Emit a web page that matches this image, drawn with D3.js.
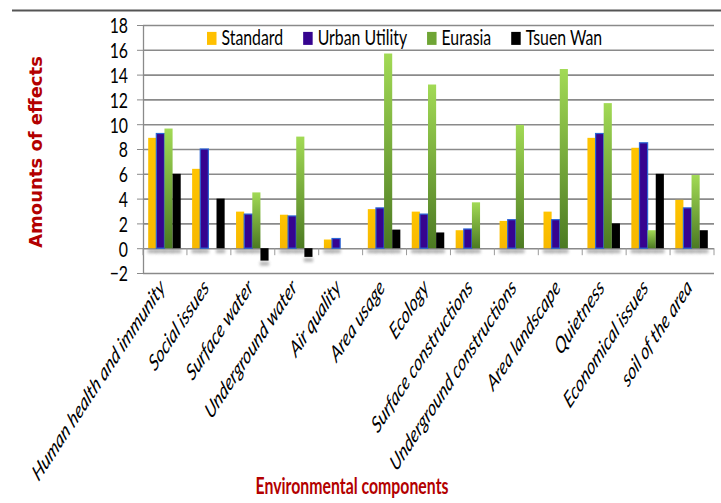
<!DOCTYPE html>
<html>
<head>
<meta charset="utf-8">
<script src="https://cdn.jsdelivr.net/npm/d3@7/dist/d3.min.js"></script>
<style>
  html, body { margin: 0; padding: 0; background: #fff; }
  svg { display: block; }
</style>
</head>
<body>
<svg id="chart" width="721" height="503"></svg>
<script>
// Environmental components and the amount of effect for each method
const categories = [
  "Human health and immunity", "Social issues", "Surface water", "Underground water",
  "Air quality", "Area usage", "Ecology", "Surface constructions",
  "Underground constructions", "Area landscape", "Quietness", "Economical issues",
  "soil of the area"
];
const seriesNames = ["Standard", "Urban Utility", "Eurasia", "Tsuen Wan"];
const standard     = [8.9, 6.4, 2.95, 2.7, 0.7, 3.15, 2.95, 1.45, 2.2, 2.95, 8.9, 8.1, 3.9];
const urbanUtility = [9.25, 8.0, 2.75, 2.6, 0.78, 3.25, 2.75, 1.55, 2.3, 2.3, 9.25, 8.5, 3.25];
const eurasia      = [9.65, 0, 4.5, 9.0, 0, 15.7, 13.2, 3.7, 9.95, 14.45, 11.7, 1.45, 5.9];
const tsuenWan     = [6.0, 4.0, -1.0, -0.7, 0, 1.5, 1.27, 0, 0, 0, 2.0, 6.0, 1.45];
const yTicks = [-2, 0, 2, 4, 6, 8, 10, 12, 14, 16, 18];
const yTitle = "Amounts of effects";
const xTitle = "Environmental components";

const seriesValues = [standard, urbanUtility, eurasia, tsuenWan];
const rows = categories.map((c, i) => ({
  category: c,
  values: seriesNames.map((s, k) => ({ series: s, value: seriesValues[k][i] }))
}));

// Text is drawn slightly condensed, Calibri-style
const SX = 0.72;
const FONT = "Lato, 'Open Sans', 'Liberation Sans', sans-serif";

const svg = d3.select("#chart");
const margin = { left: 143, right: 7, top: 25, bottom: 230 };
const W = 721, H = 503;
const plotW = W - margin.left - margin.right;
const plotH = H - margin.top - margin.bottom;

const defs = svg.append("defs");
const gEur = defs.append("linearGradient").attr("id", "eurGrad")
  .attr("x1", 0).attr("y1", 0).attr("x2", 0).attr("y2", 1);
gEur.append("stop").attr("offset", "0%").attr("stop-color", "#a2da55");
gEur.append("stop").attr("offset", "100%").attr("stop-color", "#4c7a22");
const gStd = defs.append("linearGradient").attr("id", "stdGrad")
  .attr("x1", 0).attr("y1", 0).attr("x2", 0).attr("y2", 1);
gStd.append("stop").attr("offset", "0%").attr("stop-color", "#ffc400");
gStd.append("stop").attr("offset", "100%").attr("stop-color", "#f7b800");
defs.append("filter").attr("id", "shadowBlur")
  .attr("x", "-50%").attr("y", "-100%").attr("width", "200%").attr("height", "300%")
  .append("feGaussianBlur").attr("stdDeviation", 1.6);

const fills = {
  "Standard": "url(#stdGrad)",
  "Urban Utility": "#36048f",
  "Eurasia": "url(#eurGrad)",
  "Tsuen Wan": "#000000"
};
const legendFills = {
  "Standard": "#ffc000",
  "Urban Utility": "#36048f",
  "Eurasia": "#6fa535",
  "Tsuen Wan": "#000000"
};

// Decorative rule across the top
svg.append("line").attr("x1", 12).attr("x2", W).attr("y1", 10.5).attr("y2", 10.5)
  .attr("stroke", "#555").attr("stroke-width", 2);

const g = svg.append("g").attr("transform", `translate(${margin.left},${margin.top})`);

const x0 = d3.scaleBand().domain(categories).range([0, plotW]).padding(0);
const x1 = d3.scaleBand().domain(seriesNames).range([5.2, x0.bandwidth() - 6.2]).padding(0);
const y = d3.scaleLinear().domain([-2, 18]).range([plotH, 0]);

// Horizontal gridlines
g.append("g")
  .call(d3.axisLeft(y).tickValues(yTicks).tickSize(-plotW).tickFormat(""))
  .call(a => a.select(".domain").remove())
  .call(a => a.selectAll("line").attr("stroke", "#8a8a8a").attr("stroke-width", 1.6));

// Left axis with ticks and labels
const yAxis = g.append("g")
  .call(d3.axisLeft(y).tickValues(yTicks).tickSize(6).tickSizeOuter(0).tickFormat(d3.format("d")));
yAxis.select(".domain").attr("stroke", "#8a8a8a").attr("stroke-width", 1.3);
yAxis.selectAll(".tick line").attr("stroke", "#8a8a8a");
yAxis.selectAll(".tick text")
  .attr("x", null).attr("dy", "0.36em")
  .attr("text-anchor", "end")
  .attr("transform", `translate(-15,0) scale(${SX},1)`)
  .attr("font-family", FONT).attr("font-size", 22).attr("fill", "#000");

// Category boundary ticks on the zero line
const boundaries = d3.range(categories.length + 1).map(i => i * x0.step());
g.append("g").selectAll("line").data(boundaries).join("line")
  .attr("x1", d => d).attr("x2", d => d)
  .attr("y1", y(0)).attr("y2", y(0) + 7)
  .attr("stroke", "#9a9a9a").attr("stroke-width", 1);

// Bars
const groups = g.append("g").selectAll("g").data(rows).join("g")
  .attr("transform", d => `translate(${x0(d.category)},0)`);

// Soft shadows at the foot of each bar
groups.selectAll("rect.shadow").data(d => d.values.filter(v => v.value !== 0)).join("rect")
  .attr("class", "shadow")
  .attr("x", d => x1(d.series) - 0.5)
  .attr("width", x1.bandwidth() + 1)
  .attr("y", d => (d.value >= 0 ? y(0) : y(d.value)) + 1)
  .attr("height", 4)
  .attr("fill", "#777").attr("opacity", 0.55)
  .attr("filter", "url(#shadowBlur)");

groups.selectAll("rect.bar").data(d => d.values.filter(v => v.value !== 0)).join("rect")
  .attr("class", "bar")
  .attr("x", d => x1(d.series))
  .attr("width", x1.bandwidth())
  .attr("y", d => y(Math.max(0, d.value)))
  .attr("height", d => Math.abs(y(d.value) - y(0)))
  .attr("fill", d => fills[d.series])
  .attr("stroke", d => d.series === "Urban Utility" ? "#2a66d6" : "none")
  .attr("stroke-width", 1.2);

// Rotated category labels
g.append("g").selectAll("text").data(categories).join("text")
  .attr("transform", d => `translate(${x0(d) + x0.bandwidth() / 2 + 1},${plotH + 16}) scale(0.66,1) rotate(-45)`)
  .attr("text-anchor", "end")
  .attr("font-family", FONT).attr("font-style", "italic").attr("font-size", 23)
  .attr("fill", "#000")
  .text(d => d);

// Legend
const legend = g.append("g").attr("transform", `translate(64,${y(17)})`);
let lx = 0;
seriesNames.forEach(name => {
  const item = legend.append("g").attr("transform", `translate(${lx},0)`);
  item.append("rect").attr("x", 0).attr("y", -5.5).attr("width", 9.5).attr("height", 13)
    .attr("fill", legendFills[name]);
  const t = item.append("text")
    .attr("transform", `translate(14.5,7.5) scale(${SX},1)`)
    .attr("font-family", FONT).attr("font-size", 22).attr("fill", "#000")
    .text(name);
  const w = t.node().getComputedTextLength() * SX;
  lx += 14.5 + w + 20;
});

// Axis titles
svg.append("text")
  .attr("transform", `translate(42,152) rotate(-90)`)
  .attr("text-anchor", "middle")
  .attr("font-family", "'DejaVu Sans', Verdana, sans-serif").attr("font-weight", "bold")
  .attr("font-size", 18).attr("fill", "#b30000")
  .text(yTitle);

svg.append("text")
  .attr("transform", `translate(352,494) scale(${SX},1)`)
  .attr("text-anchor", "middle")
  .attr("font-family", FONT).attr("font-weight", "bold")
  .attr("font-size", 22).attr("fill", "#b30000")
  .text(xTitle);
</script>
</body>
</html>
